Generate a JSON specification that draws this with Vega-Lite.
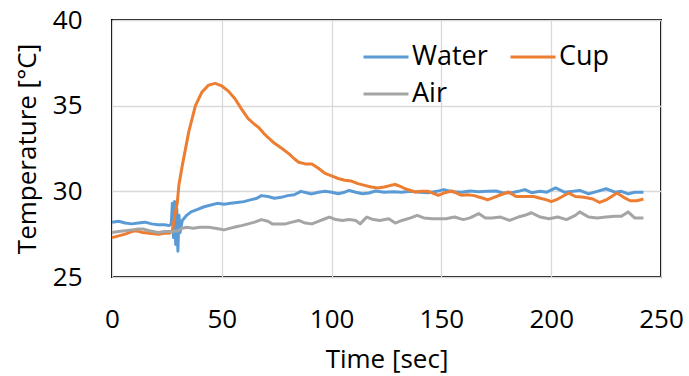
{
  "$schema": "https://vega.github.io/schema/vega-lite/v6.json",
  "autosize": {"type": "none"},
  "width": 549,
  "height": 257,
  "padding": {"left": 112, "top": 20, "right": 28, "bottom": 99},
  "background": "white",
  "config": {
    "font": "Open Sans",
    "view": {"stroke": "#000000", "strokeWidth": 2},
    "axis": {"grid": true, "gridColor": "#d9d9d9", "gridWidth": 1.3, "domain": false, "ticks": false,
      "labelFontSize": 26, "titleFontSize": 26, "labelColor": "#000", "titleColor": "#000", "titleFontWeight": "normal", "labelFont": "Open Sans", "titleFont": "Open Sans"}
  },
  "data": {"values": [
    {"t":0,"s":"Water","v":28.2},{"t":3,"s":"Water","v":28.25},{"t":6,"s":"Water","v":28.15},{"t":9,"s":"Water","v":28.1},{"t":12,"s":"Water","v":28.15},{"t":15,"s":"Water","v":28.2},{"t":18,"s":"Water","v":28.1},{"t":21,"s":"Water","v":28.05},{"t":24,"s":"Water","v":28.05},{"t":26,"s":"Water","v":28.0},{"t":27,"s":"Water","v":28.1},{"t":27.5,"s":"Water","v":29.3},{"t":28,"s":"Water","v":27.3},{"t":28.5,"s":"Water","v":29.4},{"t":29,"s":"Water","v":26.9},{"t":29.5,"s":"Water","v":29.0},{"t":30,"s":"Water","v":26.5},{"t":30.5,"s":"Water","v":28.6},{"t":31,"s":"Water","v":27.6},{"t":32,"s":"Water","v":28.3},{"t":34,"s":"Water","v":28.6},{"t":36,"s":"Water","v":28.8},{"t":39,"s":"Water","v":28.95},{"t":42,"s":"Water","v":29.1},{"t":45,"s":"Water","v":29.2},{"t":48,"s":"Water","v":29.3},{"t":51,"s":"Water","v":29.25},{"t":54,"s":"Water","v":29.3},{"t":57,"s":"Water","v":29.35},{"t":60,"s":"Water","v":29.4},{"t":63,"s":"Water","v":29.5},{"t":66,"s":"Water","v":29.6},{"t":68,"s":"Water","v":29.75},{"t":71,"s":"Water","v":29.7},{"t":74,"s":"Water","v":29.6},{"t":77,"s":"Water","v":29.65},{"t":80,"s":"Water","v":29.75},{"t":83,"s":"Water","v":29.8},{"t":86,"s":"Water","v":30.0},{"t":89,"s":"Water","v":29.9},{"t":91,"s":"Water","v":29.85},{"t":94,"s":"Water","v":29.95},{"t":97,"s":"Water","v":30.0},{"t":100,"s":"Water","v":29.95},{"t":103,"s":"Water","v":29.86},{"t":106,"s":"Water","v":29.95},{"t":108,"s":"Water","v":30.05},{"t":111,"s":"Water","v":29.95},{"t":114,"s":"Water","v":29.86},{"t":117,"s":"Water","v":29.9},{"t":120,"s":"Water","v":30.02},{"t":124,"s":"Water","v":29.95},{"t":128,"s":"Water","v":29.97},{"t":132,"s":"Water","v":29.95},{"t":136,"s":"Water","v":30.0},{"t":140,"s":"Water","v":29.95},{"t":144,"s":"Water","v":29.92},{"t":148,"s":"Water","v":30.0},{"t":151,"s":"Water","v":30.1},{"t":155,"s":"Water","v":29.98},{"t":159,"s":"Water","v":29.95},{"t":163,"s":"Water","v":30.02},{"t":167,"s":"Water","v":29.98},{"t":171,"s":"Water","v":30.0},{"t":175,"s":"Water","v":30.02},{"t":178,"s":"Water","v":29.9},{"t":182,"s":"Water","v":29.92},{"t":185,"s":"Water","v":30.0},{"t":188,"s":"Water","v":30.1},{"t":191,"s":"Water","v":29.92},{"t":195,"s":"Water","v":30.0},{"t":198,"s":"Water","v":29.95},{"t":202,"s":"Water","v":30.2},{"t":206,"s":"Water","v":29.95},{"t":210,"s":"Water","v":30.0},{"t":213,"s":"Water","v":30.05},{"t":217,"s":"Water","v":29.85},{"t":221,"s":"Water","v":30.0},{"t":225,"s":"Water","v":30.15},{"t":229,"s":"Water","v":29.95},{"t":232,"s":"Water","v":30.0},{"t":235,"s":"Water","v":29.85},{"t":238,"s":"Water","v":29.95},{"t":242,"s":"Water","v":29.95},
    {"t":0,"s":"Cup","v":27.3},{"t":3,"s":"Cup","v":27.4},{"t":6,"s":"Cup","v":27.5},{"t":9,"s":"Cup","v":27.65},{"t":11,"s":"Cup","v":27.7},{"t":14,"s":"Cup","v":27.6},{"t":17,"s":"Cup","v":27.55},{"t":21,"s":"Cup","v":27.5},{"t":24,"s":"Cup","v":27.55},{"t":26,"s":"Cup","v":27.55},{"t":27.5,"s":"Cup","v":27.7},{"t":28.5,"s":"Cup","v":28.5},{"t":29.7,"s":"Cup","v":29.3},{"t":30.5,"s":"Cup","v":30.4},{"t":32,"s":"Cup","v":31.5},{"t":35,"s":"Cup","v":33.5},{"t":38,"s":"Cup","v":35.0},{"t":41,"s":"Cup","v":35.8},{"t":44,"s":"Cup","v":36.2},{"t":47,"s":"Cup","v":36.3},{"t":50,"s":"Cup","v":36.15},{"t":53,"s":"Cup","v":35.85},{"t":56,"s":"Cup","v":35.4},{"t":59,"s":"Cup","v":34.8},{"t":62,"s":"Cup","v":34.25},{"t":65,"s":"Cup","v":33.9},{"t":67,"s":"Cup","v":33.7},{"t":69,"s":"Cup","v":33.4},{"t":71.4,"s":"Cup","v":33.1},{"t":74,"s":"Cup","v":32.8},{"t":77.4,"s":"Cup","v":32.5},{"t":80.5,"s":"Cup","v":32.2},{"t":83,"s":"Cup","v":31.9},{"t":85,"s":"Cup","v":31.7},{"t":88,"s":"Cup","v":31.6},{"t":91,"s":"Cup","v":31.6},{"t":94,"s":"Cup","v":31.35},{"t":97,"s":"Cup","v":31.05},{"t":100,"s":"Cup","v":30.9},{"t":103,"s":"Cup","v":30.75},{"t":106,"s":"Cup","v":30.65},{"t":109,"s":"Cup","v":30.6},{"t":112,"s":"Cup","v":30.45},{"t":115,"s":"Cup","v":30.35},{"t":118,"s":"Cup","v":30.25},{"t":121,"s":"Cup","v":30.2},{"t":124,"s":"Cup","v":30.25},{"t":127,"s":"Cup","v":30.35},{"t":129,"s":"Cup","v":30.4},{"t":131,"s":"Cup","v":30.3},{"t":133.5,"s":"Cup","v":30.15},{"t":136,"s":"Cup","v":30.05},{"t":138,"s":"Cup","v":29.96},{"t":141,"s":"Cup","v":30.0},{"t":144,"s":"Cup","v":30.0},{"t":146,"s":"Cup","v":29.9},{"t":148.6,"s":"Cup","v":29.77},{"t":151,"s":"Cup","v":29.9},{"t":154.7,"s":"Cup","v":30.02},{"t":157,"s":"Cup","v":29.9},{"t":159,"s":"Cup","v":29.77},{"t":162,"s":"Cup","v":29.8},{"t":165,"s":"Cup","v":29.75},{"t":167,"s":"Cup","v":29.67},{"t":169,"s":"Cup","v":29.6},{"t":171,"s":"Cup","v":29.5},{"t":174,"s":"Cup","v":29.65},{"t":177,"s":"Cup","v":29.8},{"t":180.6,"s":"Cup","v":29.96},{"t":184,"s":"Cup","v":29.7},{"t":188,"s":"Cup","v":29.7},{"t":192,"s":"Cup","v":29.7},{"t":195,"s":"Cup","v":29.6},{"t":198,"s":"Cup","v":29.5},{"t":200,"s":"Cup","v":29.4},{"t":203,"s":"Cup","v":29.55},{"t":208,"s":"Cup","v":29.9},{"t":211,"s":"Cup","v":29.7},{"t":215,"s":"Cup","v":29.65},{"t":219,"s":"Cup","v":29.55},{"t":222,"s":"Cup","v":29.35},{"t":225,"s":"Cup","v":29.5},{"t":230,"s":"Cup","v":29.9},{"t":233,"s":"Cup","v":29.65},{"t":236,"s":"Cup","v":29.45},{"t":239,"s":"Cup","v":29.45},{"t":242,"s":"Cup","v":29.55},
    {"t":0,"s":"Air","v":27.6},{"t":3,"s":"Air","v":27.65},{"t":6,"s":"Air","v":27.7},{"t":9,"s":"Air","v":27.75},{"t":12,"s":"Air","v":27.8},{"t":14,"s":"Air","v":27.8},{"t":17,"s":"Air","v":27.7},{"t":21,"s":"Air","v":27.6},{"t":24,"s":"Air","v":27.65},{"t":27,"s":"Air","v":27.65},{"t":30,"s":"Air","v":27.7},{"t":32,"s":"Air","v":27.85},{"t":34,"s":"Air","v":27.9},{"t":37,"s":"Air","v":27.85},{"t":40,"s":"Air","v":27.9},{"t":44,"s":"Air","v":27.9},{"t":47,"s":"Air","v":27.85},{"t":49,"s":"Air","v":27.8},{"t":51,"s":"Air","v":27.75},{"t":54,"s":"Air","v":27.85},{"t":57,"s":"Air","v":27.95},{"t":59,"s":"Air","v":28.0},{"t":62,"s":"Air","v":28.1},{"t":65,"s":"Air","v":28.2},{"t":68,"s":"Air","v":28.35},{"t":71,"s":"Air","v":28.25},{"t":73,"s":"Air","v":28.1},{"t":76,"s":"Air","v":28.1},{"t":79,"s":"Air","v":28.1},{"t":82,"s":"Air","v":28.2},{"t":85,"s":"Air","v":28.3},{"t":88,"s":"Air","v":28.15},{"t":91,"s":"Air","v":28.1},{"t":94,"s":"Air","v":28.25},{"t":97,"s":"Air","v":28.4},{"t":99,"s":"Air","v":28.5},{"t":102,"s":"Air","v":28.35},{"t":105,"s":"Air","v":28.3},{"t":108,"s":"Air","v":28.35},{"t":111,"s":"Air","v":28.3},{"t":113,"s":"Air","v":28.1},{"t":116,"s":"Air","v":28.5},{"t":119,"s":"Air","v":28.35},{"t":122,"s":"Air","v":28.3},{"t":126,"s":"Air","v":28.4},{"t":129,"s":"Air","v":28.15},{"t":132,"s":"Air","v":28.3},{"t":136,"s":"Air","v":28.45},{"t":139,"s":"Air","v":28.6},{"t":142,"s":"Air","v":28.45},{"t":146,"s":"Air","v":28.4},{"t":149,"s":"Air","v":28.4},{"t":152,"s":"Air","v":28.4},{"t":156,"s":"Air","v":28.5},{"t":160,"s":"Air","v":28.35},{"t":163,"s":"Air","v":28.45},{"t":167,"s":"Air","v":28.7},{"t":170,"s":"Air","v":28.45},{"t":173,"s":"Air","v":28.45},{"t":177,"s":"Air","v":28.5},{"t":181,"s":"Air","v":28.3},{"t":185,"s":"Air","v":28.5},{"t":188,"s":"Air","v":28.6},{"t":191,"s":"Air","v":28.75},{"t":195,"s":"Air","v":28.5},{"t":199,"s":"Air","v":28.4},{"t":203,"s":"Air","v":28.5},{"t":207,"s":"Air","v":28.35},{"t":211,"s":"Air","v":28.6},{"t":213,"s":"Air","v":28.8},{"t":217,"s":"Air","v":28.5},{"t":221,"s":"Air","v":28.45},{"t":225,"s":"Air","v":28.5},{"t":229,"s":"Air","v":28.55},{"t":232,"s":"Air","v":28.55},{"t":235,"s":"Air","v":28.8},{"t":238,"s":"Air","v":28.45},{"t":242,"s":"Air","v":28.45}
  ]},
  "mark": {"type": "line", "strokeWidth": 3, "strokeJoin": "round"},
  "encoding": {
    "x": {"field": "t", "type": "quantitative", "title": "Time [sec]",
      "scale": {"domain": [0, 250], "nice": false},
      "axis": {"values": [0, 50, 100, 150, 200, 250], "labelPadding": 29, "titlePadding": 14, "labelFlush": false}},
    "y": {"field": "v", "type": "quantitative", "title": "Temperature [°C]",
      "scale": {"domain": [25, 40], "nice": false, "zero": false},
      "axis": {"values": [25, 30, 35, 40], "labelPadding": 30, "titlePadding": 12, "labelFlush": false}},
    "color": {"field": "s", "type": "nominal",
      "scale": {"domain": ["Water", "Cup", "Air"], "range": ["#5B9BD5", "#ED7D31", "#A5A5A5"]},
      "legend": {"title": null, "orient": "none", "legendX": 250, "legendY": 13, "columns": 2, "direction": "horizontal",
        "symbolType": "stroke", "symbolSize": 2025, "symbolStrokeWidth": 3, "labelFontSize": 27, "labelFont": "Open Sans", "labelColor": "#000",
        "labelOffset": 2, "columnPadding": 16, "rowPadding": -10, "symbolOffset": 0}}
  }
}
